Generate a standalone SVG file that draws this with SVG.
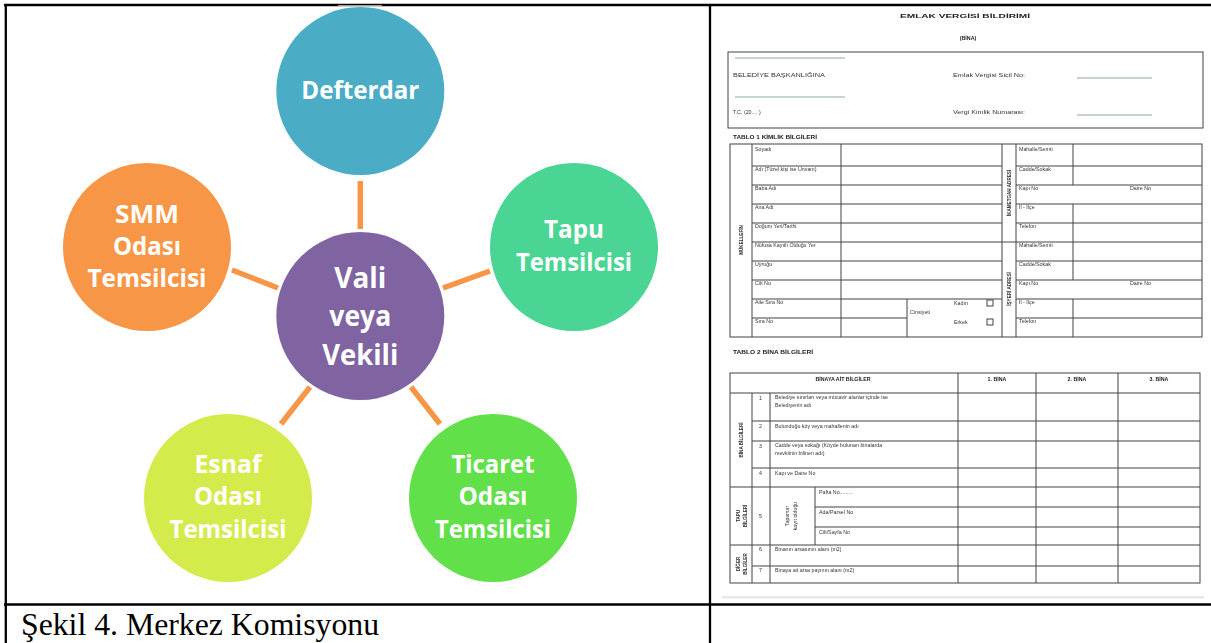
<svg xmlns="http://www.w3.org/2000/svg" width="1211" height="643" viewBox="0 0 1211 643">
<style>
.frame{stroke:#000;stroke-width:2.3;fill:none}
.lbl{font-family:"Open Sans","Liberation Sans",sans-serif;font-weight:bold;fill:#fff;text-anchor:middle}
.conn{stroke:#F79646;stroke-width:5.5;fill:none}
.cap{font-family:"Liberation Serif","Times New Roman",serif;font-size:32px;fill:#000}
.fl{stroke:#444;stroke-width:1;fill:none}
.ft{font-family:"Liberation Sans",Arial,sans-serif;font-size:5.3px;fill:#333}
.fb{font-family:"Liberation Sans",Arial,sans-serif;font-size:5.3px;fill:#222;font-weight:bold}
.fv{font-family:"Liberation Sans",Arial,sans-serif;font-size:4.6px;fill:#333;font-weight:bold;text-anchor:middle}
.fill{stroke:#8fa6a8;stroke-width:1.1;fill:none}
</style>
<defs>
<filter id="soft" x="-5%" y="-5%" width="110%" height="110%"><feGaussianBlur stdDeviation="0.5"/></filter>
</defs>
<rect width="1211" height="643" fill="#fff"/>

<!-- table frame -->
<g id="table-frame">
<line class="frame" x1="4" y1="5" x2="1211" y2="5"/>
<line class="frame" x1="5.8" y1="4" x2="5.8" y2="643"/>
<line class="frame" x1="710" y1="4" x2="710" y2="643"/>
<line class="frame" x1="4" y1="604.5" x2="1211" y2="604.5"/>
<rect x="338" y="5.3" width="44" height="1.2" fill="#ddd"/>
</g>

<!-- connectors -->
<g id="connectors">
<line class="conn" x1="360.3" y1="181" x2="360.3" y2="229"/>
<line class="conn" x1="232" y1="270" x2="278" y2="288"/>
<line class="conn" x1="443" y1="288" x2="490" y2="271"/>
<line class="conn" x1="310" y1="387" x2="281" y2="424"/>
<line class="conn" x1="411" y1="387" x2="440" y2="424"/>
</g>

<g id="node-defterdar">
<circle cx="360.3" cy="91" r="84" fill="#4BACC6"/>
<text class="lbl" x="360.3" y="99" font-size="25" textLength="118" lengthAdjust="spacingAndGlyphs">Defterdar</text>
</g>

<g id="node-vali">
<circle cx="360.3" cy="316" r="84" fill="#8064A2"/>
<text class="lbl" x="360.3" y="288" font-size="29" textLength="52" lengthAdjust="spacingAndGlyphs">Vali</text>
<text class="lbl" x="360.3" y="326" font-size="29" textLength="62" lengthAdjust="spacingAndGlyphs">veya</text>
<text class="lbl" x="360.3" y="365" font-size="29" textLength="76" lengthAdjust="spacingAndGlyphs">Vekili</text>
</g>

<g id="node-smm">
<circle cx="147" cy="247" r="84" fill="#F79646"/>
<text class="lbl" x="147" y="223" font-size="25" textLength="64" lengthAdjust="spacingAndGlyphs">SMM</text>
<text class="lbl" x="147" y="255" font-size="25" textLength="68" lengthAdjust="spacingAndGlyphs">Odası</text>
<text class="lbl" x="147" y="287" font-size="25" textLength="119" lengthAdjust="spacingAndGlyphs">Temsilcisi</text>
</g>

<g id="node-tapu">
<circle cx="574" cy="247" r="84" fill="#4BD594"/>
<text class="lbl" x="574" y="238" font-size="25" textLength="60" lengthAdjust="spacingAndGlyphs">Tapu</text>
<text class="lbl" x="574" y="271" font-size="25" textLength="116" lengthAdjust="spacingAndGlyphs">Temsilcisi</text>
</g>

<g id="node-esnaf">
<circle cx="228" cy="498" r="84" fill="#D5EB4B"/>
<text class="lbl" x="228" y="473" font-size="25" textLength="67" lengthAdjust="spacingAndGlyphs">Esnaf</text>
<text class="lbl" x="228" y="505" font-size="25" textLength="68" lengthAdjust="spacingAndGlyphs">Odası</text>
<text class="lbl" x="228" y="538" font-size="25" textLength="117" lengthAdjust="spacingAndGlyphs">Temsilcisi</text>
</g>

<g id="node-ticaret">
<circle cx="493" cy="498" r="84" fill="#62E04A"/>
<text class="lbl" x="493" y="473" font-size="25" textLength="83" lengthAdjust="spacingAndGlyphs">Ticaret</text>
<text class="lbl" x="493" y="505" font-size="25" textLength="69" lengthAdjust="spacingAndGlyphs">Odası</text>
<text class="lbl" x="493" y="538" font-size="25" textLength="116" lengthAdjust="spacingAndGlyphs">Temsilcisi</text>
</g>

<text id="caption" class="cap" x="21" y="635" textLength="358" lengthAdjust="spacingAndGlyphs">Şekil 4. Merkez Komisyonu</text>

<!-- scanned form -->
<g id="form" filter="url(#soft)">
<text class="fb" x="965" y="18" font-size="7.5" text-anchor="middle" textLength="130" lengthAdjust="spacingAndGlyphs">EMLAK VERGİSİ BİLDİRİMİ</text>
<text class="fb" x="968" y="40" font-size="7" text-anchor="middle">(BİNA)</text>

<rect class="fl" x="728" y="52" width="475" height="76"/>
<line class="fill" x1="735" y1="58" x2="845" y2="58"/>
<line class="fill" x1="735" y1="97" x2="845" y2="97"/>
<line class="fill" x1="1077" y1="78" x2="1152" y2="78"/>
<line class="fill" x1="1077" y1="115" x2="1152" y2="115"/>
<text class="ft" x="733" y="77" textLength="92" lengthAdjust="spacingAndGlyphs">BELEDİYE BAŞKANLIĞINA</text>
<text class="ft" x="733" y="114">T.C. (20.... )</text>
<text class="ft" x="953" y="77" textLength="72" lengthAdjust="spacingAndGlyphs">Emlak Vergisi Sicil No:</text>
<text class="ft" x="953" y="114" textLength="72" lengthAdjust="spacingAndGlyphs">Vergi Kimlik Numarası:</text>

<text class="fb" x="733" y="139" textLength="84" lengthAdjust="spacingAndGlyphs">TABLO 1 KİMLİK BİLGİLERİ</text>
<rect class="fl" x="730" y="144" width="472" height="193"/>
<path class="fl" d="M752 144V337M841 144V337M1002 144V337M1016 144V337M907 299V337M1073 144V185M1073 204V280M1073 299V337"/>
<path class="fl" d="M752 166H1002M752 185H1002M752 204H1002M752 223H1002M752 242H1002M752 261H1002M752 280H1002M752 299H1002M752 318H907"/>
<path class="fl" d="M1016 166H1202M1016 185H1202M1016 204H1202M1016 223H1202M1002 242H1202M1016 261H1202M1016 280H1202M1016 299H1202M1016 318H1202"/>
<rect class="fl" x="987" y="300" width="6" height="6"/>
<rect class="fl" x="987" y="319" width="6" height="6"/>
<text class="ft" x="755" y="151">Soyadı</text>
<text class="ft" x="755" y="171">Adı (Tüzel kişi ise Unvanı)</text>
<text class="ft" x="755" y="190">Baba Adı</text>
<text class="ft" x="755" y="209">Ana Adı</text>
<text class="ft" x="755" y="228">Doğum Yeri/Tarihi</text>
<text class="ft" x="755" y="247">Nüfusa Kayıtlı Olduğu Yer</text>
<text class="ft" x="755" y="266">Uyruğu</text>
<text class="ft" x="755" y="285">Cilt No</text>
<text class="ft" x="755" y="304">Aile Sıra No</text>
<text class="ft" x="755" y="323">Sıra No</text>
<text class="ft" x="910" y="314">Cinsiyeti</text>
<text class="ft" x="954" y="305">Kadın</text>
<text class="ft" x="954" y="324">Erkek</text>
<text class="ft" x="1019" y="151">Mahalle/Semti</text>
<text class="ft" x="1019" y="171">Cadde/Sokak</text>
<text class="ft" x="1019" y="190">Kapı No</text>
<text class="ft" x="1130" y="190">Daire No</text>
<text class="ft" x="1019" y="209">İl - İlçe</text>
<text class="ft" x="1019" y="228">Telefon</text>
<text class="ft" x="1019" y="247">Mahalle/Semti</text>
<text class="ft" x="1019" y="266">Cadde/Sokak</text>
<text class="ft" x="1019" y="285">Kapı No</text>
<text class="ft" x="1130" y="285">Daire No</text>
<text class="ft" x="1019" y="304">İl - İlçe</text>
<text class="ft" x="1019" y="323">Telefon</text>
<text class="fv" transform="translate(743 240) rotate(-90)">MÜKELLEFİN</text>
<text class="fv" transform="translate(1011 193) rotate(-90)">İKAMETGAH ADRESİ</text>
<text class="fv" transform="translate(1011 289) rotate(-90)">İŞYERİ ADRESİ</text>

<text class="fb" x="733" y="354" textLength="80" lengthAdjust="spacingAndGlyphs">TABLO 2 BİNA BİLGİLERİ</text>
<rect class="fl" x="730" y="373" width="470" height="210"/>
<path class="fl" d="M958 373V583M1036 373V583M1118 373V583M752 393V583M770 393V583M815 487V545"/>
<path class="fl" d="M730 393H1200M752 421H1200M752 441H1200M752 468H1200M730 487H1200M815 507H1200M815 527H1200M730 545H1200M752 566H1200"/>
<text class="fb" x="843" y="381" text-anchor="middle">BİNAYA AİT BİLGİLER</text>
<text class="fb" x="997" y="381" text-anchor="middle">1. BİNA</text>
<text class="fb" x="1077" y="381" text-anchor="middle">2. BİNA</text>
<text class="fb" x="1159" y="381" text-anchor="middle">3. BİNA</text>
<text class="ft" x="759" y="400">1</text>
<text class="ft" x="759" y="428">2</text>
<text class="ft" x="759" y="448">3</text>
<text class="ft" x="759" y="475">4</text>
<text class="ft" x="759" y="518">5</text>
<text class="ft" x="759" y="551">6</text>
<text class="ft" x="759" y="572">7</text>
<text class="ft" x="775" y="399">Belediye sınırları veya mücavir alanlar içinde ise</text>
<text class="ft" x="775" y="407">Belediyenin adı</text>
<text class="ft" x="775" y="428">Bulunduğu köy veya mahallenin adı</text>
<text class="ft" x="775" y="447">Cadde veya sokağı (Köyde bulunan binalarda</text>
<text class="ft" x="775" y="455">mevkiinin bilinen adı)</text>
<text class="ft" x="775" y="475">Kapı ve Daire No</text>
<text class="ft" x="819" y="494">Pafta No.........</text>
<text class="ft" x="819" y="514">Ada/Parsel No</text>
<text class="ft" x="819" y="534">Cilt/Sayfa No</text>
<text class="ft" x="775" y="551">Binanın arsasının alanı (m2)</text>
<text class="ft" x="775" y="572">Binaya ait arsa payının alanı (m2)</text>
<text class="fv" transform="translate(743 440) rotate(-90)">BİNA BİLGİLERİ</text>
<text class="fv" transform="translate(740 516) rotate(-90)">TAPU</text>
<text class="fv" transform="translate(747 516) rotate(-90)">BİLGİLERİ</text>
<text class="fv" transform="translate(740 564) rotate(-90)">DİĞER</text>
<text class="fv" transform="translate(747 564) rotate(-90)">BİLGİLER</text>
<text class="ft" text-anchor="middle" transform="translate(789 516) rotate(-90)">Tapunun</text>
<text class="ft" text-anchor="middle" transform="translate(797 516) rotate(-90)">kayıt olduğu</text>
<rect x="722" y="596" width="482" height="2.5" fill="#d8d8d8" opacity="0.6"/>
</g>
</svg>
